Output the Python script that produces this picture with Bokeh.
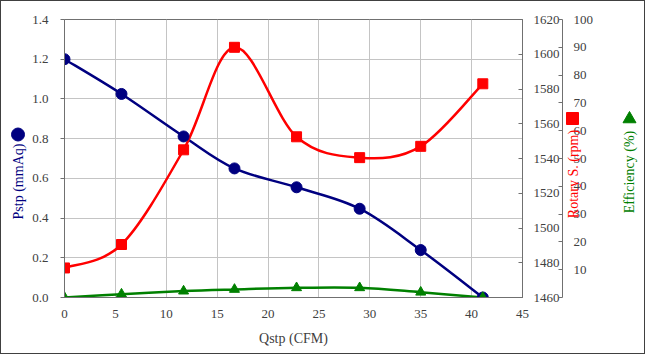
from bokeh.plotting import figure
from bokeh.models import Range1d, LinearAxis, FixedTicker, PrintfTickFormatter, Label
from bokeh.embed import file_html
from bokeh.resources import INLINE

# ---- data ----
qstp = [0.0, 5.6, 11.7, 16.7, 22.8, 29.0, 35.0, 41.1]
pstp = [1.20, 1.025, 0.811, 0.650, 0.555, 0.447, 0.239, 0.0]
rotary = [1477, 1490.5, 1545, 1604, 1552.5, 1540.5, 1547, 1583]
efficiency = [0.0, 1.2, 2.3, 2.9, 3.5, 3.5, 1.9, 0.0]

x_ticks = [0, 5, 10, 15, 20, 25, 30, 35, 40, 45]
p_ticks = [0.0, 0.2, 0.4, 0.6, 0.8, 1.0, 1.2, 1.4]
r_ticks = [1460, 1480, 1500, 1520, 1540, 1560, 1580, 1600, 1620]
e_ticks = [0, 10, 20, 30, 40, 50, 60, 70, 80, 90, 100]

FONT = "Liberation Serif"
TICK_COLOR = "#404040"
AXIS_COLOR = "#707070"
PCOL, RCOL, ECOL = "#000080", "#ff0000", "#008000"


def smooth_segments(xs, ys):
    """Bezier control points (Catmull-Rom style, like a smoothed spreadsheet line)."""
    n = len(xs)
    d = dict(x0=[], y0=[], x1=[], y1=[], cx0=[], cy0=[], cx1=[], cy1=[])
    for i in range(n - 1):
        pm = max(i - 1, 0)
        pp = min(i + 2, n - 1)
        d["x0"].append(xs[i]); d["y0"].append(ys[i])
        d["x1"].append(xs[i + 1]); d["y1"].append(ys[i + 1])
        d["cx0"].append(xs[i] + (xs[i + 1] - xs[pm]) / 6.0)
        d["cy0"].append(ys[i] + (ys[i + 1] - ys[pm]) / 6.0)
        d["cx1"].append(xs[i + 1] - (xs[pp] - xs[i]) / 6.0)
        d["cy1"].append(ys[i + 1] - (ys[pp] - ys[i]) / 6.0)
    return d


p = figure(width=645, height=354, output_backend="svg", toolbar_location=None,
           x_range=Range1d(0, 45), y_range=Range1d(0, 1.4),
           min_border_left=63, min_border_right=124, min_border_top=18, min_border_bottom=58)
p.styles = {"border": "1px solid #404040"}
p.background_fill_color = "white"
p.border_fill_color = "white"
p.outline_line_color = AXIS_COLOR
p.outline_line_width = 1

p.extra_y_ranges = {"rot": Range1d(1460, 1620), "eff": Range1d(0, 100)}

p.xgrid.ticker = FixedTicker(ticks=x_ticks)
p.ygrid.ticker = FixedTicker(ticks=p_ticks)
p.xgrid.grid_line_color = "#c4c4c4"
p.ygrid.grid_line_color = "#c4c4c4"


def style_axis(ax):
    ax.axis_line_color = AXIS_COLOR
    ax.major_tick_line_color = AXIS_COLOR
    ax.minor_tick_line_color = None
    ax.major_label_text_font = FONT
    ax.major_label_text_font_size = "13px"
    ax.major_label_text_color = TICK_COLOR
    ax.axis_label_text_font = FONT
    ax.axis_label_text_font_size = "14px"
    ax.axis_label_text_font_style = "normal"


xa = p.xaxis[0]
style_axis(xa)
xa.ticker = FixedTicker(ticks=x_ticks)
xa.major_tick_out = 0
xa.major_tick_in = 0
xa.major_label_standoff = 12
xa.axis_label = "Qstp (CFM)"
xa.axis_label_standoff = 10
xa.axis_label_text_color = TICK_COLOR

ya = p.yaxis[0]
style_axis(ya)
ya.ticker = FixedTicker(ticks=p_ticks)
ya.formatter = PrintfTickFormatter(format="%.1f")
ya.major_tick_out = 4
ya.major_tick_in = 0
ya.major_label_standoff = 12

rax = LinearAxis(y_range_name="rot", ticker=FixedTicker(ticks=r_ticks))
style_axis(rax)
rax.major_tick_out = 0
rax.major_tick_in = 4
rax.major_label_standoff = 11
p.add_layout(rax, "right")

# empty spacer: room for the rotary title, pushes the efficiency axis outwards
spacer = LinearAxis(y_range_name="eff", ticker=FixedTicker(ticks=[]))
spacer.axis_line_color = None
spacer.major_tick_line_color = None
spacer.minor_tick_line_color = None
spacer.major_tick_out = 30
spacer.major_tick_in = 0
spacer.major_label_standoff = 0
p.add_layout(spacer, "right")

eax = LinearAxis(y_range_name="eff", ticker=FixedTicker(ticks=e_ticks))
style_axis(eax)
eax.major_tick_out = 0
eax.major_tick_in = 4
eax.major_label_standoff = 11
eax.major_label_overrides = {0: ""}
p.add_layout(eax, "right")

# series
p.bezier(source=smooth_segments(qstp, pstp), x0="x0", y0="y0", x1="x1", y1="y1",
         cx0="cx0", cy0="cy0", cx1="cx1", cy1="cy1", line_color=PCOL, line_width=2.5, line_cap="round")
p.bezier(source=smooth_segments(qstp, rotary), x0="x0", y0="y0", x1="x1", y1="y1",
         cx0="cx0", cy0="cy0", cx1="cx1", cy1="cy1", line_color=RCOL, line_width=2.5, line_cap="round",
         y_range_name="rot")
p.bezier(source=smooth_segments(qstp, efficiency), x0="x0", y0="y0", x1="x1", y1="y1",
         cx0="cx0", cy0="cy0", cx1="cx1", cy1="cy1", line_color=ECOL, line_width=2.5, line_cap="round",
         y_range_name="eff")

p.scatter(qstp, pstp, marker="circle", size=11, fill_color=PCOL, line_color=PCOL)
p.scatter(qstp, rotary, marker="square", size=10, fill_color=RCOL, line_color=RCOL, y_range_name="rot")
p.scatter(qstp, efficiency, marker="triangle", size=10, fill_color=ECOL, line_color=ECOL, y_range_name="eff")

# ---- transparent overlay (page pixel coordinates) for the rotated axis titles and their keys ----
ov = figure(width=647, height=356, output_backend="svg", toolbar_location=None,
            x_range=Range1d(0, 647), y_range=Range1d(356, 0),
            x_axis_location=None, y_axis_location=None, min_border=0,
            min_border_left=0, min_border_right=0, min_border_top=0, min_border_bottom=0)
ov.styles = {"position": "absolute", "left": "0px", "top": "0px", "pointer-events": "none"}
ov.background_fill_color = None
ov.border_fill_color = None
ov.outline_line_color = None
ov.xgrid.visible = False
ov.ygrid.visible = False

titles = [
    # text, colour, key marker, key size, text centre, key centre
    ("Pstp (mmAq)", PCOL, "circle", 13, (18, 181), (17.5, 134)),
    ("Rotary S. (rpm)", RCOL, "square", 12, (572.5, 173.5), (572, 118)),
    ("Efficiency (%)", ECOL, "triangle", 13, (629, 171.5), (629, 118.5)),
]
for text, col, marker, msize, (tx, ty), (kx, ky) in titles:
    ov.add_layout(Label(x=tx, y=ty, text=text, angle=90, angle_units="deg",
                        text_align="center", text_baseline="middle",
                        text_font=FONT, text_font_size="14px", text_color=col))
    ov.scatter([kx], [ky], marker=marker, size=msize, fill_color=col, line_color=col)

open("out.html", "w").write(file_html([p, ov], INLINE))
